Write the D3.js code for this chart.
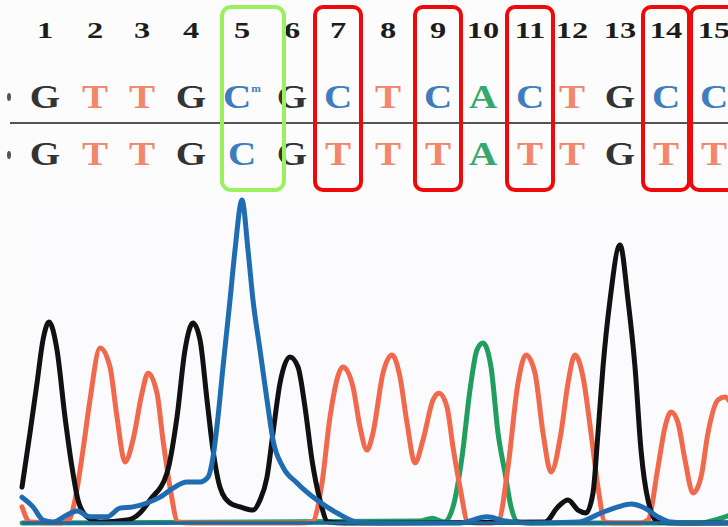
<!DOCTYPE html>
<html>
<head>
<meta charset="utf-8">
<script src="https://cdn.jsdelivr.net/npm/d3@7"></script>
<style>
  html, body { margin: 0; padding: 0; background: #fcfcfd; }
  svg { display: block; }
</style>
</head>
<body>
<svg id="chart" width="728" height="527"></svg>
<script>
// ---- Read data -------------------------------------------------------------
// Base positions (1-based) and their peak locations in scan units
const baseNumbers = [1, 2, 3, 4, 5, 6, 7, 8, 9, 10, 11, 12, 13, 14, 15];
const peakLocations = [23, 73, 120, 169, 220, 270, 316, 366, 416, 461, 508, 550, 598, 644, 692];

// Base calls: reference (top) and sample (bottom)
const callsReference = ["G", "T", "T", "G", "C", "G", "C", "T", "C", "A", "C", "T", "G", "C", "C"];
const callsSample    = ["G", "T", "T", "G", "C", "G", "T", "T", "T", "A", "T", "T", "G", "T", "T"];

// Highlighted columns
const methylatedBases = [5];
const convertedBases = [7, 9, 11, 14, 15];

// Trace signal per channel: [scan, intensity]
const traceG = [
  [0, 111], [8, 279], [15, 433], [21, 567], [27, 622], [35, 536], [43, 328], [50, 173],
  [56, 71], [65, 19], [78, 3], [105, 9], [118, 31], [128, 71], [145, 155], [155, 328],
  [163, 536], [171, 619], [178, 567], [185, 381], [191, 226], [198, 111], [208, 62],
  [218, 50], [231, 40], [238, 71], [245, 142], [251, 279], [258, 433], [268, 514],
  [276, 483], [283, 359], [290, 195], [298, 71], [306, 3], [323, 0], [523, 3], [536, 50],
  [546, 71], [556, 40], [564, 31], [571, 93], [576, 279], [581, 483], [588, 690],
  [598, 861], [606, 690], [613, 483], [619, 226], [626, 71], [636, 3], [658, 0], [706, 0]
];
const traceT = [
  [0, 50], [8, 3], [38, 0], [48, 15], [53, 71], [61, 226], [68, 381], [78, 542],
  [88, 483], [95, 328], [103, 189], [111, 257], [120, 402], [126, 464], [135, 402],
  [141, 257], [148, 111], [156, 3], [168, 0], [278, 0], [290, 3], [300, 124], [308, 328],
  [321, 483], [331, 421], [338, 297], [345, 226], [351, 279], [361, 464], [370, 520],
  [378, 452], [385, 310], [393, 186], [401, 257], [411, 381], [417, 402], [425, 359],
  [431, 235], [438, 111], [446, 3], [458, 0], [468, 0], [476, 3], [486, 173], [496, 433],
  [504, 520], [513, 464], [521, 279], [529, 158], [539, 279], [546, 433], [553, 520],
  [561, 452], [569, 279], [576, 111], [583, 3], [593, 0], [618, 0], [626, 9], [636, 173],
  [643, 297], [649, 344], [656, 310], [663, 195], [671, 93], [679, 142], [686, 279],
  [696, 381], [703, 390], [708, 375]
];
const traceC = [
  [0, 80], [11, 50], [21, 9], [31, 3], [45, 25], [55, 37], [68, 19], [85, 19], [98, 46],
  [111, 50], [125, 62], [138, 80], [151, 108], [165, 127], [178, 127], [186, 142],
  [191, 204], [196, 328], [201, 483], [208, 690], [213, 845], [220, 1000], [226, 845],
  [231, 690], [238, 536], [245, 381], [251, 257], [261, 173], [275, 124], [295, 71],
  [315, 31], [335, 3], [358, 0], [438, 0], [465, 19], [483, 6], [508, 0], [556, 3],
  [579, 31], [596, 50], [609, 59], [623, 46], [636, 19], [649, 3], [668, 0], [706, 0]
];
const traceA = [
  [0, 0], [398, 6], [410, 15], [422, 3], [431, 50], [440, 204], [448, 412], [455, 536],
  [461, 557], [469, 483], [476, 279], [483, 155], [489, 50], [496, 3], [508, 0],
  [678, 0], [689, 6], [706, 22]
];

// ---- Styling ---------------------------------------------------------------
const baseColor = { G: "#333333", T: "#f2876c", C: "#3f7cbf", A: "#35a96c" };
const traceColor = { G: "#111111", T: "#f0694c", C: "#1f6cb2", A: "#1f9e5e" };

const svg = d3.select("#chart");
const W = 728, H = 527;

svg.append("rect").attr("width", W).attr("height", H).attr("fill", "#fcfcfd");

// Scales: scan → pixels, intensity → pixels
const x = d3.scaleLinear().domain([0, 706]).range([22, 728]);
const y = d3.scaleLinear().domain([0, 1000]).range([523, 200]);

// ---- Electropherogram traces -------------------------------------------------
svg.append("rect").attr("x", 22).attr("y", 195).attr("width", W - 22).attr("height", H - 195)
  .attr("fill", "#fbfbfe");

const line = d3.line()
  .x(d => x(d[0]))
  .y(d => y(d[1]))
  .curve(d3.curveMonotoneX);

const traces = [
  { key: "A", data: traceA },
  { key: "T", data: traceT },
  { key: "G", data: traceG },
  { key: "C", data: traceC }
];

const traceLayer = svg.append("g").attr("class", "traces");

traceLayer.selectAll("path")
  .data(traces)
  .join("path")
  .attr("d", d => line(d.data))
  .attr("fill", "none")
  .attr("stroke", d => traceColor[d.key])
  .attr("stroke-width", 5)
  .attr("stroke-linejoin", "round")
  .attr("stroke-linecap", "round");

// zero line shared by the four channels
traceLayer.append("line")
  .attr("x1", x(0)).attr("x2", x(706))
  .attr("y1", y(0)).attr("y2", y(0))
  .attr("stroke", "#1d6a9b")
  .attr("stroke-width", 3.5);

// ---- Header: base numbers and base calls -------------------------------------
const header = svg.append("g").attr("class", "header");

header.selectAll("text.num")
  .data(baseNumbers)
  .join("text")
  .attr("class", "num")
  .attr("transform", (d, i) => `translate(${x(peakLocations[i])},38) scale(1.35,1)`)
  .attr("text-anchor", "middle")
  .attr("font-family", "'Liberation Serif', 'DejaVu Serif', serif")
  .attr("font-weight", "bold")
  .attr("font-size", 24)
  .attr("fill", "#1c1c1c")
  .text(d => d);

function drawCalls(calls, baseline, cls) {
  header.selectAll("text." + cls)
    .data(calls)
    .join("text")
    .attr("class", cls)
    .attr("transform", (d, i) => `translate(${x(peakLocations[i])},${baseline}) scale(1.15,1)`)
    .attr("text-anchor", "middle")
    .attr("font-family", "'Liberation Serif', 'DejaVu Serif', serif")
    .attr("font-weight", "bold")
    .attr("font-size", 34)
    .attr("fill", d => baseColor[d])
    .text(d => d);
}
drawCalls(callsReference, 108, "ref");
drawCalls(callsSample, 165, "smp");

// methylation mark on the reference call
header.selectAll("text.ref")
  .filter((d, i) => methylatedBases.includes(baseNumbers[i]))
  .append("tspan")
  .attr("font-size", 10)
  .attr("dy", -16)
  .text("m");

// separator between the two rows
header.append("line")
  .attr("x1", 10).attr("x2", W)
  .attr("y1", 123).attr("y2", 123)
  .attr("stroke", "#555")
  .attr("stroke-width", 2);

// row markers at the left edge
header.selectAll("ellipse.mark")
  .data([97, 155])
  .join("ellipse")
  .attr("class", "mark")
  .attr("cx", 9).attr("cy", d => d)
  .attr("rx", 2).attr("ry", 4)
  .attr("fill", "#555");

// ---- Highlight boxes ---------------------------------------------------------
const boxes = svg.append("g").attr("class", "boxes");
const idx = n => baseNumbers.indexOf(n);

boxes.selectAll("rect.meth")
  .data(methylatedBases)
  .join("rect")
  .attr("class", "meth")
  .attr("x", d => x(peakLocations[idx(d)]) - 20)
  .attr("y", 7)
  .attr("width", 62)
  .attr("height", 183)
  .attr("rx", 9)
  .attr("fill", "none")
  .attr("stroke", "#9af05e")
  .attr("stroke-width", 4);

boxes.selectAll("rect.conv")
  .data(convertedBases)
  .join("rect")
  .attr("class", "conv")
  .attr("x", d => x(peakLocations[idx(d)]) - 23)
  .attr("y", 7)
  .attr("width", 46)
  .attr("height", 183)
  .attr("rx", 8)
  .attr("fill", "none")
  .attr("stroke", "#ee0a0a")
  .attr("stroke-width", 4);
</script>
</body>
</html>
